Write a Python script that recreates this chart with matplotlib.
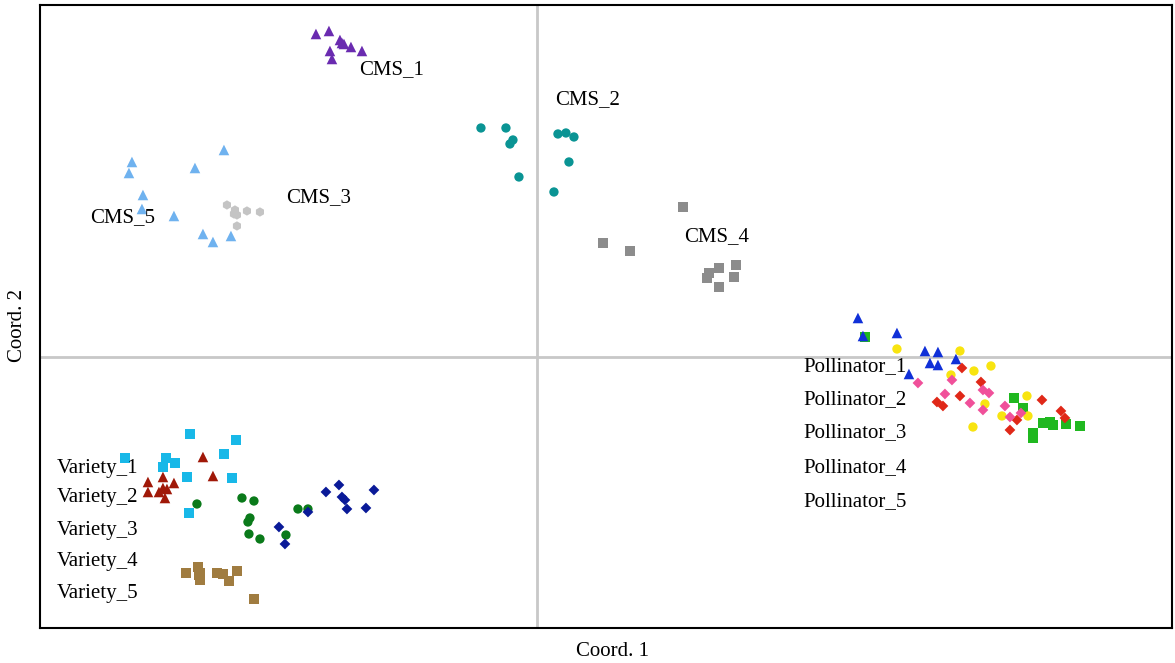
import matplotlib
matplotlib.use("Agg")
import matplotlib.pyplot as plt

plt.rcParams['font.family'] = ['Liberation Serif', 'DejaVu Serif']

# PCoA coordinates (arbitrary units)
cms1_x = [-2.21, -2.08, -1.97, -1.95, -1.93, -1.86, -1.75, -2.07, -2.05]
cms1_y = [3.23, 3.26, 3.17, 3.14, 3.13, 3.10, 3.06, 3.06, 2.98]
cms2_x = [-0.56, -0.31, -0.24, -0.27, -0.18, 0.21, 0.29, 0.37, 0.32, 0.17]
cms2_y = [2.29, 2.29, 2.17, 2.13, 1.80, 2.23, 2.24, 2.20, 1.95, 1.65]
cms3_x = [-3.10, -3.02, -3.00, -2.90, -2.77, -3.00, -3.03]
cms3_y = [1.52, 1.47, 1.42, 1.46, 1.45, 1.31, 1.43]
cms4_x = [1.46, 0.66, 0.93, 1.82, 1.99, 1.97, 1.72, 1.70, 1.82]
cms4_y = [1.50, 1.14, 1.06, 0.89, 0.92, 0.80, 0.84, 0.79, 0.70]
cms5_x = [-4.05, -4.08, -3.94, -3.95, -3.63, -3.42, -3.13, -3.34, -3.24, -3.06]
cms5_y = [1.95, 1.84, 1.62, 1.48, 1.41, 1.89, 2.07, 1.23, 1.15, 1.21]

pol1_x = [3.28, 4.77, 4.86, 5.06, 5.13, 5.16, 5.29, 5.43, 4.96, 4.96]
pol1_y = [0.20, -0.41, -0.51, -0.66, -0.65, -0.68, -0.67, -0.69, -0.76, -0.81]
pol2_x = [3.21, 3.26, 3.60, 3.88, 4.01, 3.93, 4.01, 4.19, 3.72]
pol2_y = [0.39, 0.21, 0.24, 0.06, 0.05, -0.06, -0.08, -0.02, -0.17]
pol3_x = [3.60, 4.23, 4.37, 4.54, 4.14, 4.48, 4.90, 4.65, 4.91, 4.36]
pol3_y = [0.08, 0.06, -0.14, -0.09, -0.18, -0.47, -0.39, -0.59, -0.59, -0.70]
pol4_x = [4.25, 4.44, 4.00, 4.06, 4.23, 4.80, 4.73, 5.05, 5.24, 5.28]
pol4_y = [-0.11, -0.25, -0.45, -0.49, -0.39, -0.63, -0.73, -0.43, -0.54, -0.61]
pol5_x = [3.81, 4.15, 4.08, 4.46, 4.52, 4.33, 4.46, 4.68, 4.73, 4.84]
pol5_y = [-0.26, -0.23, -0.37, -0.33, -0.36, -0.46, -0.53, -0.49, -0.60, -0.56]

var1_x = [-3.47, -3.01, -4.12, -3.71, -3.74, -3.62, -3.13, -3.50, -3.05, -3.48]
var1_y = [-0.77, -0.83, -1.01, -1.01, -1.10, -1.06, -0.97, -1.20, -1.21, -1.56]
var2_x = [-3.34, -3.24, -3.89, -3.74, -3.63, -3.89, -3.78, -3.74, -3.70, -3.72]
var2_y = [-1.00, -1.19, -1.25, -1.20, -1.26, -1.35, -1.35, -1.31, -1.32, -1.41]
var3_x = [-3.40, -2.95, -2.83, -2.87, -2.89, -2.88, -2.77, -2.51, -2.39, -2.29]
var3_y = [-1.47, -1.41, -1.44, -1.61, -1.65, -1.77, -1.82, -1.78, -1.52, -1.52]
var4_x = [-2.11, -1.98, -1.95, -1.92, -1.90, -1.71, -1.63, -2.29, -2.58, -2.52]
var4_y = [-1.35, -1.28, -1.40, -1.43, -1.52, -1.51, -1.33, -1.55, -1.70, -1.87]
var5_x = [-3.51, -3.39, -3.37, -3.37, -3.20, -3.14, -3.08, -3.00, -2.83, -3.38]
var5_y = [-2.16, -2.10, -2.16, -2.23, -2.16, -2.17, -2.24, -2.14, -2.42, -2.18]

# group labels and where they sit
label_text = ['CMS_1', 'CMS_2', 'CMS_3', 'CMS_4', 'CMS_5',
              'Pollinator_1', 'Pollinator_2', 'Pollinator_3', 'Pollinator_4', 'Pollinator_5',
              'Variety_1', 'Variety_2', 'Variety_3', 'Variety_4', 'Variety_5']
label_x = [-1.78, 0.18, -2.51, 1.47, -4.47,
           2.66, 2.66, 2.66, 2.66, 2.66,
           -4.80, -4.80, -4.80, -4.80, -4.80]
label_y = [2.87, 2.57, 1.59, 1.20, 1.39,
           -0.10, -0.43, -0.76, -1.11, -1.45,
           -1.12, -1.41, -1.74, -2.05, -2.37]

fig = plt.figure(figsize=(11.75, 6.63), dpi=100)
ax = fig.add_axes([0.034, 0.0528, 0.9634, 0.9397])
ax.set_xlim(-4.97, 6.35)
ax.set_ylim(-2.71, 3.52)

ax.axvline(0, color='#c8c8c8', lw=2, zorder=1)
ax.axhline(0, color='#c8c8c8', lw=2, zorder=1)

groups = [
    (cms1_x, cms1_y, '^', '#6a2bb0'),
    (cms2_x, cms2_y, 'o', '#0a9494'),
    (cms3_x, cms3_y, 'h', '#c4c4c4'),
    (cms4_x, cms4_y, 's', '#8c8c8c'),
    (cms5_x, cms5_y, '^', '#6fb2ef'),
    (pol1_x, pol1_y, 's', '#20b820'),
    (pol2_x, pol2_y, '^', '#1030d8'),
    (pol3_x, pol3_y, 'o', '#f8e410'),
    (pol4_x, pol4_y, 'D', '#e02818'),
    (pol5_x, pol5_y, 'D', '#f0509a'),
    (var1_x, var1_y, 's', '#18b8e8'),
    (var2_x, var2_y, '^', '#a01808'),
    (var3_x, var3_y, 'o', '#0a7a1a'),
    (var4_x, var4_y, 'D', '#0a1a98'),
    (var5_x, var5_y, 's', '#a07c40'),
]
marker_size = {'^': 58, 'D': 30, 's': 45, 'o': 45, 'h': 45}
for xs, ys, m, c in groups:
    ax.scatter(xs, ys, marker=m, s=marker_size[m], color=c, edgecolors='none', zorder=3)

for t, x, y in zip(label_text, label_x, label_y):
    ax.text(x, y, t, fontsize=15, ha='left', va='center', zorder=4)

ax.set_xticks([])
ax.set_yticks([])
for sp in ax.spines.values():
    sp.set_linewidth(1.5)
    sp.set_color('black')

fig.text(612 / 1175, 1 - 651 / 663, 'Coord. 1', fontsize=15, ha='center', va='center')
fig.text(18 / 1175, 1 - 325 / 663, 'Coord. 2', fontsize=15, ha='center', va='center',
         rotation=90)

fig.savefig('out.png', dpi=100)
